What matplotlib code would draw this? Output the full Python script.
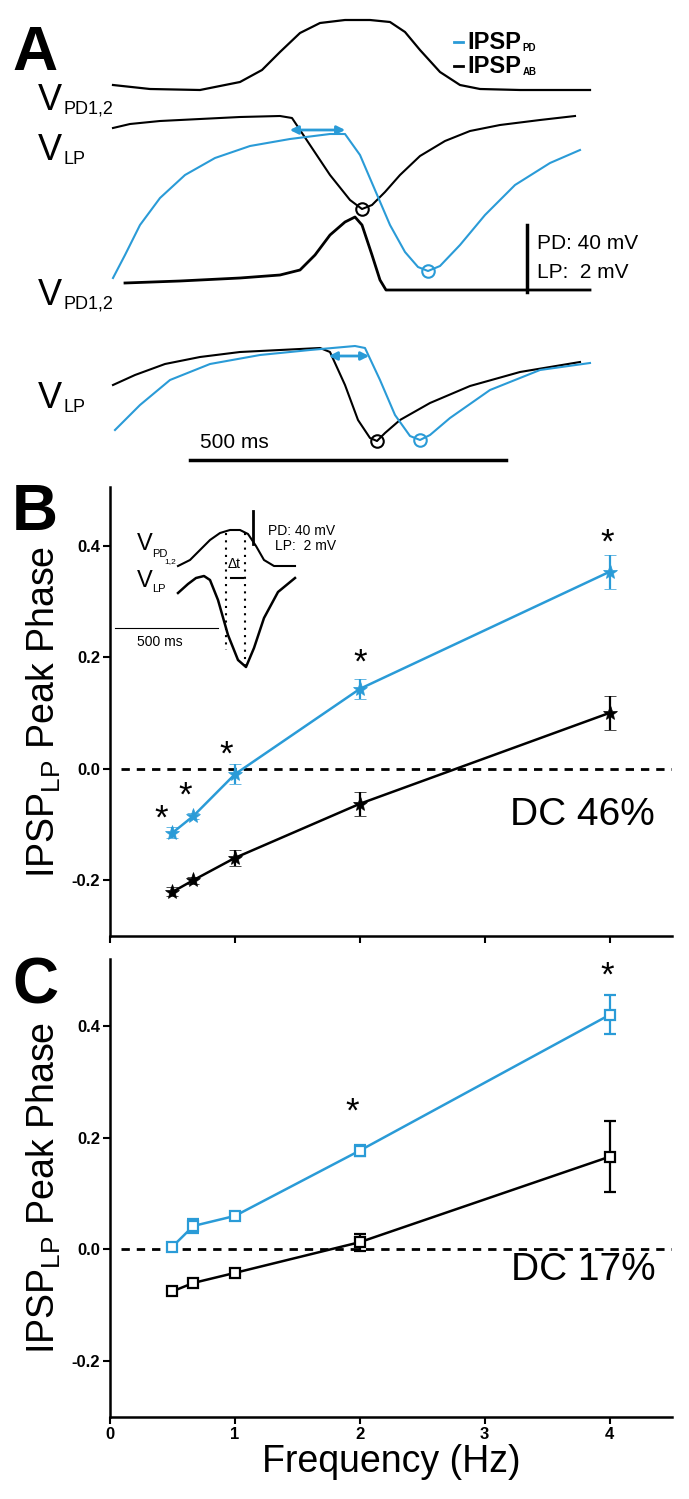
import matplotlib
matplotlib.use("Agg")
from matplotlib import pyplot as plt

plt.rcParams['font.family'] = ['Liberation Sans', 'DejaVu Sans']
NARROW = ['Liberation Sans Narrow', 'Liberation Sans', 'DejaVu Sans']

BLUE = '#2a9bd7'

# ---- panel B / C data (frequency in Hz, peak phase) ----
freq = [0.5, 0.667, 1, 2, 4]

b_pd = [-0.115, -0.085, -0.01, 0.143, 0.353]
b_pd_err = [0.01, 0.006, 0.018, 0.018, 0.03]
b_ab = [-0.221, -0.2, -0.16, -0.063, 0.10]
b_ab_err = [0.008, 0.006, 0.015, 0.022, 0.03]

c_pd = [0.005, 0.042, 0.06, 0.177, 0.42]
c_pd_err = [0.006, 0.012, 0.006, 0.01, 0.035]
c_ab = [-0.075, -0.06, -0.042, 0.013, 0.166]
c_ab_err = [0.006, 0.005, 0.004, 0.015, 0.064]

# asterisk positions (x, y) in data units
b_stars = [(0.41, -0.09), (0.6, -0.05), (0.93, 0.025), (2.0, 0.19), (3.98, 0.405)]
c_stars = [(1.94, 0.245), (3.98, 0.49)]

# ---- panel A traces in pixel units (x, y from top) ----
pd1_x = [113, 150, 200, 240, 262, 280, 300, 320, 345, 370, 390, 405, 420, 440, 460, 480, 520, 590]
pd1_y = [85, 89, 90, 82, 70, 52, 33, 23, 20, 20, 22, 32, 50, 72, 85, 89, 90, 90]

lp1_ab_x = [113, 130, 160, 200, 240, 280, 292, 310, 330, 350, 362, 372, 385, 400, 420, 445, 470, 500, 540, 575]
lp1_ab_y = [128, 124, 121, 119, 117, 116, 118, 145, 175, 200, 209, 205, 192, 175, 156, 141, 131, 125, 120, 116]

lp1_pd_x = [113, 125, 140, 160, 185, 215, 250, 290, 330, 345, 360, 375, 390, 405, 418, 428, 440, 460, 485, 515, 550, 580]
lp1_pd_y = [278, 255, 225, 198, 175, 158, 146, 139, 134, 134, 155, 190, 225, 252, 267, 271, 266, 245, 215, 185, 163, 150]

pd2_x = [125, 180, 240, 280, 300, 315, 330, 345, 355, 362, 372, 380, 386, 400, 590]
pd2_y = [283, 281, 278, 275, 270, 255, 235, 222, 217, 225, 255, 280, 290, 290, 290]

lp2_ab_x = [113, 135, 165, 200, 240, 280, 320, 330, 345, 358, 370, 377, 385, 400, 430, 470, 520, 580]
lp2_ab_y = [385, 375, 364, 357, 352, 350, 348, 352, 385, 420, 438, 441, 433, 420, 403, 386, 372, 362]

lp2_pd_x = [115, 140, 170, 210, 260, 310, 355, 365, 380, 395, 410, 420, 430, 450, 490, 540, 590]
lp2_pd_y = [430, 405, 380, 364, 355, 350, 346, 348, 380, 415, 436, 440, 435, 418, 390, 370, 363]

# inset traces of panel B (pixel units)
ins_pd_x = [178, 190, 200, 210, 220, 230, 240, 248, 256, 264, 274, 295]
ins_pd_y = [566, 560, 550, 540, 533, 530, 530, 534, 546, 560, 566, 566]
ins_lp_x = [178, 188, 196, 204, 210, 218, 228, 238, 246, 254, 264, 278, 295]
ins_lp_y = [593, 584, 578, 576, 580, 600, 635, 660, 667, 648, 618, 592, 578]

fig = plt.figure(figsize=(6.89, 14.99), dpi=100)
W, H = 689.0, 1499.0


def box(left, top, right, bottom):
    return [left / W, 1 - bottom / H, (right - left) / W, (bottom - top) / H]


def phase_panel(ax, pd, pd_err, ab, ab_err, marker, ms, ylim, stars, dc, dc_y):
    ax.axhline(0, xmin=0.02, xmax=1, color='black', ls=(0, (3, 2.5)), lw=2, zorder=1)
    if marker == 's':
        kw = dict(mfc='white', mew=1.6)
    else:
        kw = dict(mew=0.5)
    ax.errorbar(freq, ab, yerr=ab_err, color='black', marker=marker, ms=ms,
                mec='black', lw=1.8, elinewidth=1.6, capsize=4, capthick=1.6, zorder=3, **kw)
    ax.errorbar(freq, pd, yerr=pd_err, color=BLUE, marker=marker, ms=ms,
                mec=BLUE, lw=1.8, elinewidth=1.6, capsize=4, capthick=1.6, zorder=4, **kw)
    for sx, sy in stars:
        ax.text(sx, sy, '*', fontsize=25, ha='center', va='center')
    ax.text(0.97, dc_y, dc, transform=ax.transAxes, fontsize=28, ha='right', va='center')
    ax.set_xlim(0, 4.5)
    ax.set_ylim(*ylim)
    ax.set_yticks([-0.2, 0.0, 0.2, 0.4])
    ax.set_yticklabels(['-0.2', '0.0', '0.2', '0.4'], fontweight='bold', fontsize=12,
                       family=NARROW)
    ax.set_xticks([0, 1, 2, 3, 4])
    for s in ['top', 'right']:
        ax.spines[s].set_visible(False)
    for s in ['left', 'bottom']:
        ax.spines[s].set_linewidth(1.8)
    ax.tick_params(width=1.5, length=5, direction='out', pad=2)
    ax.set_ylabel('IPSP$_{\\mathregular{LP}}$ Peak Phase', fontsize=27, labelpad=6)


axB = fig.add_axes(box(110, 487, 672, 936))
phase_panel(axB, b_pd, b_pd_err, b_ab, b_ab_err, '*', 11, (-0.3, 0.505), b_stars,
            'DC 46%', 0.27)
axB.set_xticklabels([])

axC = fig.add_axes(box(110, 959, 672, 1417))
phase_panel(axC, c_pd, c_pd_err, c_ab, c_ab_err, 's', 7, (-0.3, 0.52), c_stars,
            'DC 17%', 0.32)
axC.set_xticklabels(['0', '1', '2', '3', '4'], fontweight='bold', fontsize=12, family=NARROW)
axC.set_xlabel('Frequency (Hz)', fontsize=27, labelpad=2)

# overlay in pixel units for panel A and the inset of B
ov = fig.add_axes([0, 0, 1, 1], zorder=10)
ov.set_xlim(0, W)
ov.set_ylim(H, 0)
ov.axis('off')
ov.patch.set_alpha(0)


def label(x, y, main, sub, size, subsize, **kw):
    t = ov.text(x, y, main, fontsize=size, va='baseline', **kw)
    ov.annotate(sub, xy=(1.0, 0.0), xycoords=t, xytext=(1, size * 0.12),
                textcoords='offset points', fontsize=subsize, va='baseline', **kw)


ov.plot(pd1_x, pd1_y, color='black', lw=1.6)
ov.plot(lp1_ab_x, lp1_ab_y, color='black', lw=1.5)
ov.plot(lp1_pd_x, lp1_pd_y, color=BLUE, lw=1.5)
ov.plot(pd2_x, pd2_y, color='black', lw=2)
ov.plot(lp2_ab_x, lp2_ab_y, color='black', lw=1.5)
ov.plot(lp2_pd_x, lp2_pd_y, color=BLUE, lw=1.5)

# trough circles
ov.plot([lp1_ab_x[10]], [lp1_ab_y[10]], 'o', mfc='none', mec='black', ms=9, mew=1.5)
ov.plot([lp1_pd_x[15]], [lp1_pd_y[15]], 'o', mfc='none', mec=BLUE, ms=9, mew=1.5)
ov.plot([lp2_ab_x[11]], [lp2_ab_y[11]], 'o', mfc='none', mec='black', ms=9, mew=1.5)
ov.plot([lp2_pd_x[11]], [lp2_pd_y[11]], 'o', mfc='none', mec=BLUE, ms=9, mew=1.5)

# double arrows
ov.annotate('', xy=(287, 130), xytext=(348, 130),
            arrowprops=dict(arrowstyle='<|-|>', color=BLUE, lw=2, mutation_scale=12))
ov.annotate('', xy=(326, 356), xytext=(372, 356),
            arrowprops=dict(arrowstyle='<|-|>', color=BLUE, lw=2, mutation_scale=12))

# scale bars
ov.plot([527, 527], [225, 292], color='black', lw=2.5)
ov.text(537, 243, 'PD: 40 mV', fontsize=15, va='center')
ov.text(537, 272, 'LP:  2 mV', fontsize=15, va='center')
ov.plot([190, 506], [460, 460], color='black', lw=2.5)
ov.text(200, 442, '500 ms', fontsize=15, va='center')

# panel A labels
ov.text(12, 70, 'A', fontsize=45, fontweight='bold', va='baseline')
label(38, 110, 'V', 'PD1,2', 26, 13)
label(38, 160, 'V', 'LP', 26, 13)
label(38, 305, 'V', 'PD1,2', 26, 13)
label(38, 408, 'V', 'LP', 26, 13)

# legend of panel A
ov.plot([454, 463], [42, 42], color=BLUE, lw=2)
label(467, 49, 'IPSP', 'PD', 17, 7, fontweight='bold', family=NARROW)
ov.plot([454, 463], [66, 66], color='black', lw=2)
label(467, 73, 'IPSP', 'AB', 17, 7, fontweight='bold', family=NARROW)

# panel letters B and C
ov.text(12, 530, 'B', fontsize=46, fontweight='bold', va='baseline')
ov.text(12, 1003, 'C', fontsize=46, fontweight='bold', va='baseline')

# inset of panel B
ov.plot(ins_pd_x, ins_pd_y, color='black', lw=1.5)
ov.plot(ins_lp_x, ins_lp_y, color='black', lw=1.8)
ov.plot([226, 226], [533, 650], color='black', lw=1.5, ls=(0, (1, 2.5)))
ov.plot([245, 245], [533, 665], color='black', lw=1.5, ls=(0, (1, 2.5)))
ov.plot([253, 253], [511, 544], color='black', lw=2)
ov.text(268, 531, 'PD: 40 mV', fontsize=10, va='center')
ov.text(275, 546, 'LP:  2 mV', fontsize=10, va='center')
ov.text(228, 568, '\u0394t', fontsize=10, va='baseline')
ov.plot([231, 243], [578, 578], color='black', lw=1.5)
ov.plot([115, 218], [628, 628], color='black', lw=0.8)
ov.text(137, 646, '500 ms', fontsize=10, va='baseline')
ov.text(137, 550, 'V', fontsize=17, va='baseline')
ov.text(152, 557, 'PD', fontsize=8, va='baseline')
ov.text(164, 563, '1,2', fontsize=6, va='baseline')
ov.text(137, 587, 'V', fontsize=17, va='baseline')
ov.text(152, 592, 'LP', fontsize=8, va='baseline')

fig.savefig('out.png', dpi=100)
